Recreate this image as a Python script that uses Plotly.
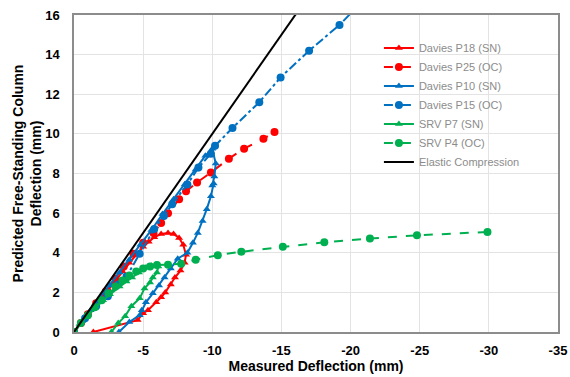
import plotly.graph_objects as go

# ---- data ----
p18_x = [0, -0.5, -1.0, -1.5, -2.0, -2.5, -3.0, -3.5, -4.0, -4.5, -5.0, -5.4, -5.8, -6.3, -6.8, -7.2, -7.6, -7.9, -8.1, -8.0, -7.7, -7.3, -7.0, -6.6, -6.3, -5.95, -5.35, -5.0, -4.6, -1.4]
p18_y = [0, 0.45, 0.85, 1.3, 1.75, 2.15, 2.6, 3.05, 3.5, 3.9, 4.3, 4.55, 4.78, 4.95, 5.0, 4.95, 4.75, 4.4, 3.9, 3.5, 3.1, 2.75, 2.4, 2.0, 1.75, 1.5, 1.1, 0.95, 0.6, 0.0]

p25_x = [0, -0.5, -1.0, -1.6, -2.3, -3.0, -3.6, -4.3, -5.0, -5.75, -6.3, -6.8, -7.6, -8.1, -8.9, -9.9, -11.2, -12.3, -13.7, -14.5]
p25_y = [0, 0.45, 0.9, 1.45, 2.05, 2.7, 3.3, 3.95, 4.5, 5.0, 5.5, 6.0, 6.7, 7.1, 7.55, 8.05, 8.75, 9.25, 9.75, 10.1]

p10_x = [0, -0.6, -1.2, -1.9, -2.6, -3.3, -4.0, -4.8, -5.6, -6.4, -7.2, -8.0, -8.8, -9.5, -10.0, -10.25, -10.15, -10.0, -10.1, -9.9, -9.6, -9.3, -8.95, -8.6, -8.2, -7.5, -7.0, -6.55, -6.15, -5.7, -5.2, -4.9, -4.75, -4.0, -3.25]
p10_y = [0, 0.55, 1.1, 1.7, 2.35, 3.0, 3.65, 4.4, 5.15, 5.95, 6.7, 7.45, 8.2, 8.9, 9.25, 8.5, 7.85, 7.4, 7.5, 6.85, 6.2, 5.6, 5.0, 4.5, 4.0, 3.7, 3.2, 2.75, 2.35, 1.95, 1.5, 1.1, 0.85, 0.5, 0.0]

p15_x = [0, -0.8, -1.6, -2.45, -3.2, -3.8, -4.75, -5.8, -6.5, -7.1, -8.2, -9.0, -9.9, -10.2, -11.46, -13.4, -14.94, -17.0, -19.2, -20.6]
p15_y = [0, 0.7, 1.3, 1.8, 2.4, 2.8, 3.95, 5.2, 5.85, 6.45, 7.45, 8.3, 9.0, 9.4, 10.3, 11.6, 12.85, 14.2, 15.5, 16.5]

p7_x = [0, -0.4, -0.9, -1.5, -2.1, -2.6, -3.3, -3.8, -4.2, -4.7, -5.2, -5.6, -5.9, -6.1, -6.0, -5.7, -5.5, -5.1, -4.75, -4.15, -3.7, -3.2, -2.7]
p7_y = [0, 0.4, 0.75, 1.2, 1.6, 1.9, 2.3, 2.55, 2.75, 3.0, 3.25, 3.35, 3.4, 3.3, 3.0, 2.75, 2.5, 2.2, 1.7, 1.3, 0.8, 0.45, 0.0]

p4_x = [0, -0.5, -1.0, -1.5, -2.0, -2.5, -3.0, -3.5, -4.0, -4.5, -5.0, -5.5, -6.0, -6.8, -7.75, -8.8, -10.4, -12.1, -15.1, -18.1, -21.4, -24.8, -29.9]
p4_y = [0, 0.45, 0.85, 1.25, 1.6, 1.95, 2.3, 2.6, 2.85, 3.05, 3.2, 3.3, 3.38, 3.4, 3.45, 3.65, 3.88, 4.05, 4.3, 4.53, 4.72, 4.88, 5.05]

elastic_x = [0, -16.2]
elastic_y = [0, 16.2]

x_ticks = [0, -5, -10, -15, -20, -25, -30, -35]
x_labels = ["0", "-5", "-10", "-15", "-20", "-25", "-30", "-35"]
y_ticks = [0, 2, 4, 6, 8, 10, 12, 14, 16]

RED = "#ff0000"
BLUE = "#0070c0"
GREEN = "#00b050"

fig = go.Figure()

def add(name, x, y, color, dash, symbol, size):
    fig.add_trace(go.Scatter(
        x=x, y=y, name=name, mode="lines+markers",
        line=dict(color=color, width=2, dash=dash),
        marker=dict(color=color, symbol=symbol, size=size),
    ))

add("Davies P18 (SN)", p18_x, p18_y, RED, "solid", "triangle-up", 7)
add("Davies P25 (OC)", p25_x, p25_y, RED, "dash", "circle", 8)
add("Davies P10 (SN)", p10_x, p10_y, BLUE, "solid", "triangle-up", 7)
add("Davies P15 (OC)", p15_x, p15_y, BLUE, "dashdot", "circle", 8)
add("SRV P7 (SN)", p7_x, p7_y, GREEN, "solid", "triangle-up", 7)
add("SRV P4 (OC)", p4_x, p4_y, GREEN, "dash", "circle", 8)
fig.add_trace(go.Scatter(x=elastic_x, y=elastic_y, name="Elastic Compression",
                         mode="lines", line=dict(color="black", width=2)))

font_family = "Liberation Sans, Arial, sans-serif"
fig.update_layout(
    width=570, height=377,
    margin=dict(l=74, r=12, t=15, b=45),
    paper_bgcolor="white", plot_bgcolor="white",
    font=dict(family=font_family, color="#404040"),
    legend=dict(x=0.63, y=0.942, xanchor="left", yanchor="top",
                bgcolor="rgba(255,255,255,0)",
                font=dict(size=11, color="#8c8c8c", family=font_family),
                tracegroupgap=0, itemwidth=30),
    showlegend=True,
)
fig.update_xaxes(
    range=[0, -35], tickvals=x_ticks, ticktext=x_labels,
    showgrid=True, gridcolor="#e3e3e3", gridwidth=1,
    showline=True, linecolor="#8c8c8c", linewidth=1.5, mirror=True,
    zeroline=False, ticks="", automargin=False, ticklabelstandoff=6,
    tickfont=dict(size=13, color="black", family="Liberation Sans, Arial", weight="bold"),
    title=dict(text="<b>Measured Deflection (mm)</b>", font=dict(size=14, color="black"), standoff=0),
)
fig.update_yaxes(
    range=[0, 16], tickvals=y_ticks,
    showgrid=True, gridcolor="#e3e3e3", gridwidth=1,
    showline=True, linecolor="#8c8c8c", linewidth=1.5, mirror=True,
    zeroline=False, ticks="", automargin=False, ticklabelstandoff=10,
    tickfont=dict(size=13, color="black", family="Liberation Sans, Arial", weight="bold"),
    title=dict(text="<b>Predicted Free-Standing Column<br>Deflection (mm)</b>", font=dict(size=14, color="black"), standoff=0),
)

fig.write_html("out.html", config={"displayModeBar": False},
               post_script="document.body.style.margin='0';")
